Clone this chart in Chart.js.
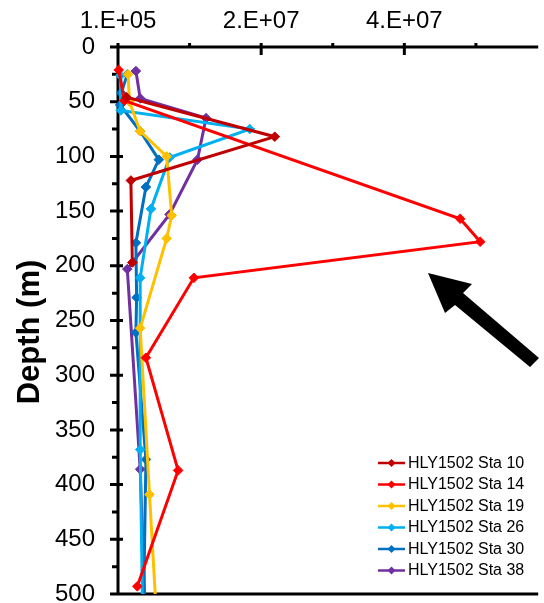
<!DOCTYPE html>
<html><head><meta charset="utf-8">
<script src="https://cdn.jsdelivr.net/npm/chart.js@4.4.1/dist/chart.umd.min.js"></script>
<style>html,body{margin:0;padding:0;background:#fff;overflow:hidden}#wrap{width:544px;height:603px;position:relative}</style>
</head><body><div id="wrap"><canvas id="c" width="544" height="603"></canvas></div>
<script>
// ---- data ----
const seriesNames = ['HLY1502 Sta 10','HLY1502 Sta 14','HLY1502 Sta 19','HLY1502 Sta 26','HLY1502 Sta 30','HLY1502 Sta 38'];
const seriesColors = ['#C00000','#FF0000','#FFC000','#00B0F0','#0070C0','#7030A0'];

const sta10Depth = [46, 82, 122, 197];
const sta10Value = [1.3e6, 2.2e7, 1.9e6, 2.1e6];
const sta14Depth = [21, 49, 157, 178, 211, 284, 387, 493];
const sta14Value = [2.0e5, 1.0e6, 4.79e7, 5.07e7, 1.07e7, 4.0e6, 8.5e6, 2.8e6];
const sta19Depth = [25, 50, 77, 100, 154, 175, 257, 409, 500];
const sta19Value = [1.5e6, 1.7e6, 3.2e6, 6.9e6, 7.6e6, 6.9e6, 3.2e6, 4.5e6, 5.3e6];
const sta26Depth = [26, 58, 75, 101, 148, 211, 368, 500];
const sta26Value = [4.0e5, 5.0e5, 1.85e7, 7.3e6, 4.7e6, 3.2e6, 3.2e6, 3.5e6];
const sta30Depth = [25, 42, 53, 77, 103, 128, 179, 229, 261, 377, 500];
const sta30Value = [1.4e6, 5.5e5, 4.0e5, 3.2e6, 5.8e6, 4.0e6, 2.6e6, 2.7e6, 2.6e6, 4.0e6, 3.7e6];
const sta38Depth = [22, 47, 65, 103, 153, 203, 386, 500];
const sta38Value = [2.6e6, 3.2e6, 1.24e7, 1.12e7, 7.3e6, 1.4e6, 3.2e6, 3.8e6];

const xTickValues = [1e5, 2.01e7, 4.01e7];
const xTickLabels = ['1.E+05', '2.E+07', '4.E+07'];
const xMinorTickValues = [1.01e7, 3.01e7, 5.01e7];
const depthTicks = [0, 50, 100, 150, 200, 250, 300, 350, 400, 450, 500];
const depthMinorTicks = [25, 75, 125, 175, 225, 275, 325, 375, 425, 475];
const depthTitle = 'Depth (m)';

const allDepths = [sta10Depth, sta14Depth, sta19Depth, sta26Depth, sta30Depth, sta38Depth];
const allValues = [sta10Value, sta14Value, sta19Value, sta26Value, sta30Value, sta38Value];

const FONT = 'Liberation Sans, Arial, Helvetica, sans-serif';

const datasets = seriesNames.map((name, i) => ({
  label: name,
  data: allDepths[i].map((d, j) => ({x: allValues[i][j], y: d})),
  borderColor: seriesColors[i],
  backgroundColor: seriesColors[i],
  pointBackgroundColor: seriesColors[i],
  pointBorderColor: seriesColors[i],
  borderWidth: 3,
  pointStyle: 'rectRot',
  pointRadius: c => (c.raw && c.raw.y >= 500 ? 0 : 4.8),
  pointBorderWidth: 1,
  showLine: true,
  tension: 0,
  clip: false
}));

const axesPlugin = {
  id: 'axesPlugin',
  beforeDatasetsDraw(chart) {
    const {ctx, chartArea: a, scales: {x, y}} = chart;
    ctx.save();
    ctx.strokeStyle = '#000';
    ctx.lineWidth = 3;
    ctx.beginPath();
    ctx.moveTo(a.left, a.top); ctx.lineTo(a.right, a.top);
    ctx.moveTo(a.left, a.top - 1.5); ctx.lineTo(a.left, a.bottom + 1.5);
    ctx.moveTo(a.left, a.bottom); ctx.lineTo(a.right, a.bottom);
    depthTicks.forEach(v => { const p = y.getPixelForValue(v); ctx.moveTo(a.left - 8, p); ctx.lineTo(a.left + 5, p); });
    depthMinorTicks.forEach(v => { const p = y.getPixelForValue(v); ctx.moveTo(a.left - 6, p); ctx.lineTo(a.left, p); });
    xTickValues.forEach(v => { const p = x.getPixelForValue(v); ctx.moveTo(p, a.top - 4); ctx.lineTo(p, a.top + 8); });
    xMinorTickValues.forEach(v => { const p = x.getPixelForValue(v); ctx.moveTo(p, a.top - 4); ctx.lineTo(p, a.top); });
    ctx.stroke();
    // y-axis title
    ctx.translate(30, 332);
    ctx.rotate(-Math.PI / 2);
    ctx.fillStyle = '#000';
    ctx.font = 'bold 31px ' + FONT;
    ctx.textAlign = 'center';
    ctx.textBaseline = 'middle';
    ctx.fillText(depthTitle, 0, 0);
    ctx.restore();
  }
};

const overlayPlugin = {
  id: 'overlayPlugin',
  afterDraw(chart) {
    const ctx = chart.ctx;
    ctx.save();
    // legend
    const x0 = 378, x1 = 405, tx = 408, y0 = 463, dy = 21.5;
    ctx.font = '16px ' + FONT;
    ctx.textBaseline = 'middle';
    ctx.textAlign = 'left';
    chart.data.datasets.forEach((ds, i) => {
      const yy = y0 + i * dy;
      ctx.strokeStyle = ds.borderColor;
      ctx.lineWidth = 2.5;
      ctx.beginPath(); ctx.moveTo(x0, yy); ctx.lineTo(x1, yy); ctx.stroke();
      ctx.fillStyle = ds.borderColor;
      const cx = (x0 + x1) / 2, r = 4;
      ctx.beginPath(); ctx.moveTo(cx, yy - r); ctx.lineTo(cx + r, yy); ctx.lineTo(cx, yy + r); ctx.lineTo(cx - r, yy); ctx.closePath(); ctx.fill();
      ctx.fillStyle = '#000';
      ctx.fillText(ds.label, tx, yy + 0.5);
    });
    // arrow annotation
    ctx.fillStyle = '#000';
    ctx.beginPath();
    ctx.moveTo(428, 273);
    ctx.lineTo(472, 284);
    ctx.lineTo(463, 293);
    ctx.lineTo(539, 358);
    ctx.lineTo(530, 367);
    ctx.lineTo(455, 305);
    ctx.lineTo(445, 313);
    ctx.closePath();
    ctx.fill();
    ctx.restore();
  }
};

new Chart(document.getElementById('c'), {
  type: 'scatter',
  data: {datasets},
  options: {
    responsive: false,
    animation: false,
    events: [],
    layout: {padding: {left: 0, right: 0, top: 0, bottom: 9}},
    plugins: {legend: {display: false}, tooltip: {enabled: false}, title: {display: false}},
    scales: {
      x: {
        type: 'linear', position: 'top', min: 1e5, max: 5.88e7,
        afterBuildTicks: s => { s.ticks = xTickValues.map(v => ({value: v})); },
        afterFit: s => { s.height = 47; s.paddingLeft = 0; s.paddingRight = 0; },
        ticks: {callback: (v, i) => xTickLabels[i], font: {family: FONT, size: 24}, color: '#000', padding: 11, maxRotation: 0, autoSkip: false},
        grid: {display: false, drawTicks: false},
        border: {display: false}
      },
      y: {
        type: 'linear', reverse: true, min: 0, max: 500,
        afterBuildTicks: s => { s.ticks = depthTicks.map(v => ({value: v})); },
        afterFit: s => { s.width = 118; s.paddingTop = 0; s.paddingBottom = 0; },
        ticks: {callback: v => String(v), font: {family: FONT, size: 24}, color: '#000', padding: 23, autoSkip: false},
        grid: {display: false, drawTicks: false},
        border: {display: false},
        title: {display: false, text: depthTitle}
      }
    }
  },
  plugins: [axesPlugin, overlayPlugin]
});
</script>
</body></html>
